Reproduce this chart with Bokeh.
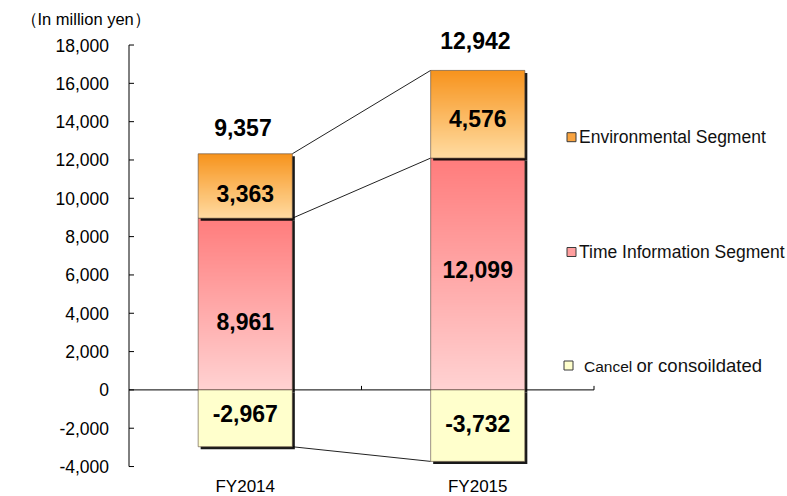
import numpy as np
from bokeh.plotting import figure
from bokeh.models import Range1d
from bokeh.core.properties import value
from bokeh.embed import file_html
from bokeh.resources import INLINE

# ---- data -------------------------------------------------------------
categories = ["FY2014", "FY2015"]
time_info = [8961, 12099]          # Time Information Segment
environmental = [3363, 4576]       # Environmental Segment
cancel = [-2967, -3732]            # Cancel or consolidated adjustment
totals = [9357, 12942]             # net operating income per year
y_ticks = list(range(-4000, 18001, 2000))
unit_text = "（In million yen）"
legend_labels = ["Environmental Segment", "Time Information Segment"]
legend_cancel = ["Cancel", "or consoildated"]

# ---- layout constants -------------------------------------------------
W, H = 787, 496
LEFT = 128.5          # y axis line (pixel column)
CAT_PX = 232.5        # pixels per category slot
ZERO_PX = 389.4       # pixel row of value 0
PX_PER_UNIT = 0.01916 # pixels per million yen
BAR_W = 0.405
FONT = value("Liberation Sans")

ORANGE = ("#F7931C", "#FFDCA2")
RED = ("#FF7C7C", "#FFD2D2")
YELLOW = "#FFFFCC"


def xd(px):
    return (px - LEFT) / CAT_PX


def yd(py):
    return (ZERO_PX - py) / PX_PER_UNIT


def hex_rgb(c):
    return np.array([int(c[i:i + 2], 16) for i in (1, 3, 5)], float)


def gradient_image(top, bottom, rows=300):
    # row 0 is drawn at the bottom of the image
    t = np.linspace(0, 1, rows)[:, None]
    rgb = hex_rgb(bottom) + (hex_rgb(top) - hex_rgb(bottom)) * t
    img = np.empty((rows, 1), dtype=np.uint32)
    view = img.view(dtype=np.uint8).reshape((rows, 1, 4))
    view[:, 0, 0:3] = np.round(rgb).astype(np.uint8)
    view[:, 0, 3] = 255
    return img


p = figure(width=W, height=H, output_backend="svg", toolbar_location=None,
           x_range=Range1d(xd(0), xd(W)), y_range=Range1d(yd(H), yd(0)),
           x_axis_location=None, y_axis_location=None,
           min_border_left=0, min_border_right=0,
           min_border_top=0, min_border_bottom=0)
p.grid.visible = False
p.outline_line_color = None
p.background_fill_color = "white"
p.border_fill_color = "white"

n = len(categories)
centers = np.arange(n) + 0.5

# value axis: line, inward ticks and labels
p.segment(x0=[0], y0=[y_ticks[0]], x1=[0], y1=[y_ticks[-1]], line_color="black", line_width=1)
p.segment(x0=[0] * len(y_ticks), y0=y_ticks, x1=[5 / CAT_PX] * len(y_ticks), y1=y_ticks,
          line_color="black", line_width=1)
p.text(x=[-20 / CAT_PX] * len(y_ticks), y=y_ticks, text=[f"{v:,}" for v in y_ticks],
       text_font=FONT, text_font_size="17.5px", text_align="right",
       text_baseline="middle", text_color="black")

# category axis at zero with boundary ticks
p.segment(x0=[0], y0=[0], x1=[n], y1=[0], line_color="black", line_width=1)
bounds = list(range(1, n + 1))
p.segment(x0=bounds, y0=[0] * n, x1=bounds, y1=[4 / PX_PER_UNIT] * n,
          line_color="black", line_width=1)

# connector lines between the bars
tops = [t + e for t, e in zip(time_info, environmental)]
for level in (tops, time_info, cancel):
    p.segment(x0=centers[:-1] + BAR_W / 2, y0=level[:-1],
              x1=centers[1:] - BAR_W / 2, y1=level[1:],
              line_color="#222222", line_width=1)

SX = 2.5 / CAT_PX
SY = 2.5 / PX_PER_UNIT
left = centers - BAR_W / 2
right = centers + BAR_W / 2


def draw_segments(bottoms, tops_, colors):
    bottoms = np.array(bottoms, float)
    tops_ = np.array(tops_, float)
    # drop shadow
    p.quad(left=left + SX, right=right + SX, top=tops_ - SY, bottom=bottoms - SY,
           fill_color="black", fill_alpha=0.9, line_color=None)
    if isinstance(colors, tuple):
        img = gradient_image(*colors)
        p.image_rgba(image=[img] * n, x=left, y=bottoms, dw=[BAR_W] * n,
                     dh=tops_ - bottoms)
    else:
        p.quad(left=left, right=right, top=tops_, bottom=bottoms,
               fill_color=colors, line_color=None)
    p.quad(left=left, right=right, top=tops_, bottom=bottoms, fill_color=None,
           line_color="#5b4a3c", line_alpha=0.6, line_width=1)


draw_segments([0] * n, time_info, RED)
draw_segments(time_info, tops, ORANGE)
draw_segments(cancel, [0] * n, YELLOW)

# value labels inside the segments
nudges = {"time": [17, -4], "env": [7.5, 4], "cancel": [-5, -2]}
label_style = dict(text_font=FONT, text_font_size="23px", text_font_style="bold",
                   text_align="center", text_baseline="middle", text_color="black")
p.text(x=centers, y=[t / 2 for t in time_info],
       text=[f"{v:,}" for v in time_info], y_offset=nudges["time"], **label_style)
p.text(x=centers, y=[t + e / 2 for t, e in zip(time_info, environmental)],
       text=[f"{v:,}" for v in environmental], y_offset=nudges["env"], **label_style)
p.text(x=centers, y=[c / 2 for c in cancel],
       text=[f"{v:,}" for v in cancel], y_offset=nudges["cancel"], **label_style)
# totals above the bars
p.text(x=centers - 0.01, y=tops, text=[f"{v:,}" for v in totals],
       y_offset=[-26, -30], **label_style)

# category labels
p.text(x=centers, y=[y_ticks[0]] * n, text=categories, y_offset=20,
       text_font=FONT, text_font_size="17px", text_align="center",
       text_baseline="middle", text_color="black")

# unit caption
p.text(x=[xd(20)], y=[yd(18)], text=[unit_text], text_font=FONT,
       text_font_size="16.5px", text_baseline="middle", text_color="black")

# legend
leg_fill = ["#F9A440", "#FF9E9E", "#FFFFCC"]
leg_y = [yd(136.7), yd(251.5), yd(365)]
leg_x = [xd(571), xd(571), xd(568)]
p.scatter(x=leg_x, y=leg_y, marker="square", size=9, fill_color=leg_fill,
          line_color="#3a3a3a", line_width=1)
legend_style = dict(text_font=FONT, text_color="#111111", text_baseline="middle")
p.text(x=[xd(578.5)] * 2, y=leg_y[:2], text=legend_labels,
       text_font_size="17.5px", **legend_style)
p.text(x=[xd(583.5)], y=[leg_y[2]], text=[legend_cancel[0]],
       text_font_size="15.5px", y_offset=[1], **legend_style)
p.text(x=[xd(636)], y=[leg_y[2]], text=[legend_cancel[1]],
       text_font_size="18.5px", **legend_style)

open("out.html", "w").write(file_html(p, INLINE))
